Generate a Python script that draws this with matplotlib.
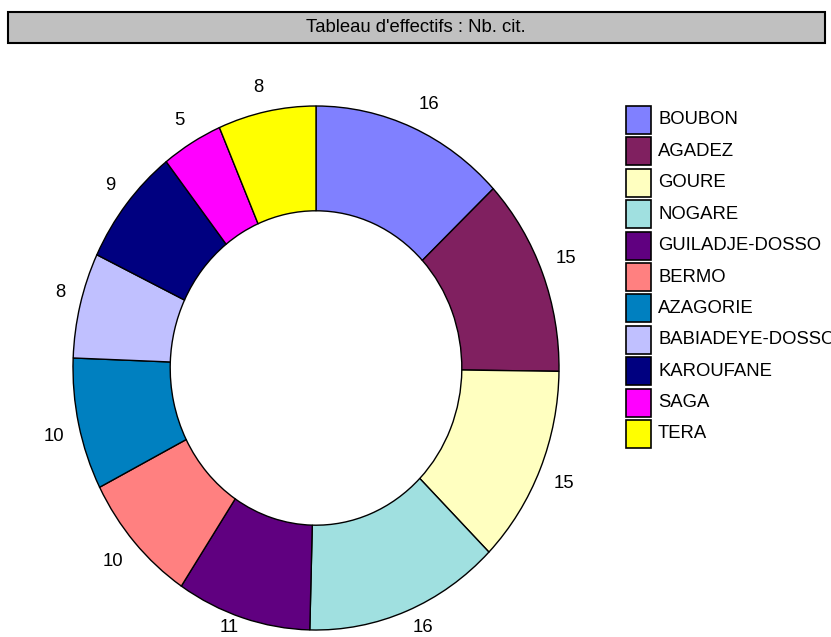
"""Donut chart of counts per site (Tableau d'effectifs)."""

import matplotlib

matplotlib.use("Agg")
import matplotlib.pyplot as plt
from matplotlib.patches import Rectangle
import numpy as np

plt.rcParams["font.family"] = ["Liberation Sans", "DejaVu Sans"]

TITLE = "Tableau d'effectifs : Nb. cit."
SITES = [
    "BOUBON", "AGADEZ", "GOURE", "NOGARE", "GUILADJE-DOSSO", "BERMO",
    "AZAGORIE", "BABIADEYE-DOSSO", "KAROUFANE", "SAGA", "TERA",
]
COUNTS = [16, 15, 15, 16, 11, 10, 10, 8, 9, 5, 8]
COLORS = [
    "#8080FF", "#802060", "#FFFFC0", "#A0E0E0", "#600080", "#FF8080",
    "#0080C0", "#C0C0FF", "#000080", "#FF00FF", "#FFFF00",
]

W, H = 831, 637
FONT_SIZE = 13.3

fig = plt.figure(figsize=(W / 100, H / 100), dpi=100)

# Pie area: slightly taller than wide, like the original
cx, cy, rx, ry = 316, 368, 243, 262
ax = fig.add_axes([(cx - rx) / W, (H - cy - ry) / H, 2 * rx / W, 2 * ry / H])
wedges, _ = ax.pie(
    COUNTS,
    colors=COLORS,
    startangle=90,
    counterclock=False,
    radius=1.0,
    wedgeprops=dict(width=0.4, edgecolor="black", linewidth=1.0),
)
ax.set_aspect("auto")
ax.set_xlim(-1, 1)
ax.set_ylim(-1, 1)
ax.axis("off")

# Value labels just outside the ring, pushed outward by quadrant
# and kept inside the bottom of the canvas
for wedge, count in zip(wedges, COUNTS):
    mid = np.deg2rad((wedge.theta1 + wedge.theta2) / 2)
    x = 1.06 * np.cos(mid)
    y = max(1.06 * np.sin(mid), -0.958)
    ax.text(
        x, y, str(count),
        ha="left" if x >= 0 else "right",
        va="bottom" if y >= 0 else "top",
        fontsize=FONT_SIZE, clip_on=False,
    )

# Overlay in pixel coordinates for the title box and legend
overlay = fig.add_axes([0, 0, 1, 1], zorder=-1)
overlay.set_xlim(0, W)
overlay.set_ylim(H, 0)
overlay.axis("off")

overlay.add_patch(
    Rectangle((8, 12), 817, 31, facecolor="#C0C0C0", edgecolor="black", linewidth=1.5)
)
overlay.text(416, 28, TITLE, ha="center", va="center", fontsize=FONT_SIZE)

row_step = 31.4
for i, (site, color) in enumerate(zip(SITES, COLORS)):
    top = 106 + i * row_step
    overlay.add_patch(
        Rectangle((626, top), 25, 28, facecolor=color, edgecolor="black", linewidth=1.2)
    )
    overlay.text(658, top + 14, site, ha="left", va="center", fontsize=FONT_SIZE)

fig.savefig("out.png", dpi=100)
